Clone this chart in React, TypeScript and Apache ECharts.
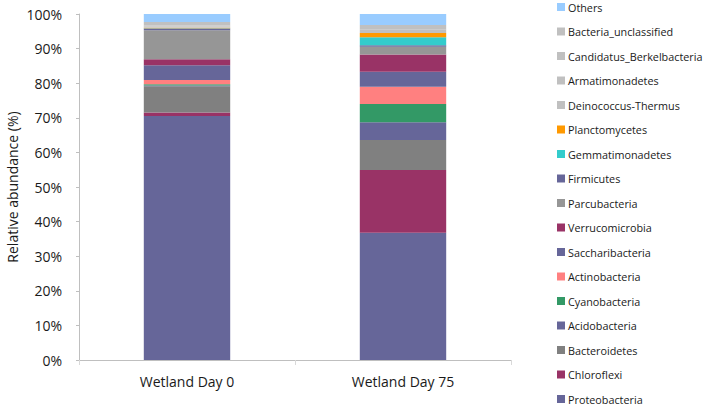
import React, { useEffect, useRef } from "react";
import * as echarts from "echarts";

const categories = ["Wetland Day 0", "Wetland Day 75"];
const taxa = [
  "Proteobacteria",
  "Chloroflexi",
  "Bacteroidetes",
  "Acidobacteria",
  "Cyanobacteria",
  "Actinobacteria",
  "Saccharibacteria",
  "Verrucomicrobia",
  "Parcubacteria",
  "Firmicutes",
  "Gemmatimonadetes",
  "Planctomycetes",
  "Deinococcus-Thermus",
  "Armatimonadetes",
  "Candidatus_Berkelbacteria",
  "Bacteria_unclassified",
  "Others",
];
const colors = [
  "#666699",
  "#993366",
  "#808080",
  "#666699",
  "#339966",
  "#FF8080",
  "#666699",
  "#993366",
  "#969696",
  "#666699",
  "#33CCCC",
  "#FF9900",
  "#C0C0C0",
  "#C0C0C0",
  "#C0C0C0",
  "#C0C0C0",
  "#99CCFF",
];
// values (%) per taxon: [Day 0, Day 75]
const proteobacteria = [70.5, 36.8];
const chloroflexi = [1.0, 18.1];
const bacteroidetes = [7.6, 8.7];
const acidobacteria = [0.2, 5.1];
const cyanobacteria = [0.4, 5.3];
const actinobacteria = [1.2, 5.0];
const saccharibacteria = [4.3, 4.3];
const verrucomicrobia = [1.7, 5.0];
const parcubacteria = [8.4, 2.2];
const firmicutes = [0.5, 0.5];
const gemmatimonadetes = [0.1, 2.3];
const planctomycetes = [0.1, 1.2];
const deinococcus = [0.2, 0.3];
const armatimonadetes = [0.2, 0.3];
const candidatus = [0.3, 0.5];
const bacteriaUnclassified = [1.0, 1.2];
const others = [2.4, 3.2];

const values = [
  proteobacteria,
  chloroflexi,
  bacteroidetes,
  acidobacteria,
  cyanobacteria,
  actinobacteria,
  saccharibacteria,
  verrucomicrobia,
  parcubacteria,
  firmicutes,
  gemmatimonadetes,
  planctomycetes,
  deinococcus,
  armatimonadetes,
  candidatus,
  bacteriaUnclassified,
  others,
];
const yTicks = { min: 0, max: 100, interval: 10 };

const FONT = "'Open Sans', 'Noto Sans', sans-serif";

export default function App() {
  const ref = useRef<HTMLDivElement>(null);
  useEffect(() => {
    document.body.style.margin = "0";
    const chart = echarts.init(ref.current!, null, { renderer: "svg" });
    chart.setOption({
      animation: false,
      backgroundColor: "#ffffff",
      textStyle: { fontFamily: FONT },
      grid: {
        left: 79,
        right: 198,
        top: 14,
        bottom: 48,
        containLabel: false,
        outerBoundsMode: "none",
      },
      legend: {
        type: "plain",
        orient: "vertical",
        left: 557,
        top: 0,
        padding: 0,
        itemWidth: 8,
        itemHeight: 8,
        itemGap: 10.5,
        icon: "rect",
        data: taxa.slice().reverse(),
        textStyle: {
          fontFamily: FONT,
          fontSize: 10.8,
          color: "#1a1a1a",
          padding: [0, 0, 0, -2],
          lineHeight: 14,
        },
        selectedMode: false,
      },
      xAxis: {
        type: "category",
        data: categories,
        axisLine: { show: true, lineStyle: { color: "#BFBFBF", width: 1 } },
        axisTick: { show: true, length: 5, lineStyle: { color: "#D9D9D9" } },
        axisLabel: { fontFamily: FONT, fontSize: 14, color: "#1a1a1a", margin: 14 },
      },
      yAxis: {
        type: "value",
        min: yTicks.min,
        max: yTicks.max,
        interval: yTicks.interval,
        name: "Relative abundance (%)",
        nameLocation: "middle",
        nameGap: 60,
        nameMoveOverlap: false,
        nameTextStyle: { fontFamily: FONT, fontSize: 14, color: "#1a1a1a" },
        axisLine: { show: true, lineStyle: { color: "#BFBFBF", width: 1 } },
        axisTick: { show: true, length: 3, lineStyle: { color: "#BFBFBF" } },
        splitLine: { show: false },
        axisLabel: {
          fontFamily: FONT,
          fontSize: 14,
          color: "#1a1a1a",
          margin: 17,
          formatter: "{value}%",
        },
      },
      series: taxa.map((name, i) => ({
        name,
        type: "bar",
        stack: "total",
        barWidth: "40%",
        data: values[i],
        itemStyle: { color: colors[i] },
        silent: true,
      })),
    });
    return () => chart.dispose();
  }, []);
  return (
    <div
      ref={ref}
      style={{ position: "absolute", left: 0, top: 0, width: 709, height: 408 }}
    />
  );
}
